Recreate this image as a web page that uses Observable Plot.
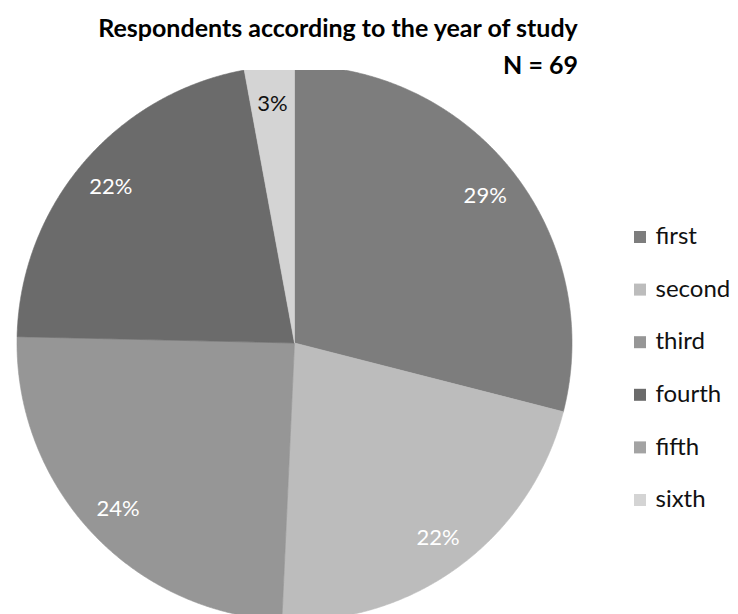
<!DOCTYPE html>
<html>
<head>
<meta charset="utf-8">
<script src="https://cdn.jsdelivr.net/npm/d3@7"></script>
<script src="https://cdn.jsdelivr.net/npm/@observablehq/plot@0.6"></script>
<style>
  html, body { margin: 0; padding: 0; background: #fff; }
  #wrap { position: relative; width: 738px; height: 614px; overflow: hidden; font-family: Lato, "Open Sans", sans-serif; }
  #head { position: relative; width: 738px; height: 70px; }
  .t { position: absolute; font-weight: bold; font-size: 25px; line-height: 25px; color: #000; white-space: nowrap; }
  #title { left: 0; width: 676px; text-align: center; top: 15px; }
  #sub { right: 160px; top: 52px; }
  #chart svg { display: block; }
</style>
</head>
<body>
<div id="wrap">
  <div id="head">
    <div class="t" id="title">Respondents according to the year of study</div>
    <div class="t" id="sub">N = 69</div>
  </div>
  <div id="chart"></div>
</div>
<script>
const categories = ["first", "second", "third", "fourth", "fifth", "sixth"];
const counts = [20, 15, 17, 15, 0, 2];
const labels = ["29%", "22%", "24%", "22%", "", "3%"];
const colors = ["#7d7d7d", "#bcbcbc", "#969696", "#6b6b6b", "#a3a3a3", "#d4d4d4"];
const labelColors = ["#ffffff", "#ffffff", "#ffffff", "#ffffff", "#ffffff", "#000000"];

const W = 738, H = 544;
const cx = 294, cy = 272.5, R = 277.5;
const total = d3.sum(counts);

const slicePts = [];
const labelPts = [];
let cum = 0;
categories.forEach((c, i) => {
  const a0 = cum / total * 2 * Math.PI;
  cum += counts[i];
  const a1 = cum / total * 2 * Math.PI;
  if (counts[i] <= 0) return;
  slicePts.push({cat: c, x: 0, y: 0});
  const n = Math.max(2, Math.ceil((a1 - a0) / (Math.PI / 720)));
  for (let k = 0; k <= n; k++) {
    const a = a0 + (a1 - a0) * k / n;
    slicePts.push({cat: c, x: R * Math.sin(a), y: R * Math.cos(a)});
  }
  slicePts.push({cat: c, x: 0, y: 0});
  const am = (a0 + a1) / 2, lr = R * 0.87;
  labelPts.push({cat: c, text: labels[i], color: labelColors[i], x: lr * Math.sin(am), y: lr * Math.cos(am)});
});

const legend = categories.map((c, i) => {
  const py = 167 + i * 52.6;
  return {cat: c, y: cy - py};
});

const chart = Plot.plot({
  width: W, height: H,
  margin: 0,
  x: {domain: [-cx, W - cx], axis: null},
  y: {domain: [cy - H, cy], axis: null},
  color: {domain: categories, range: colors},
  style: {fontFamily: "Lato, 'Open Sans', sans-serif", background: "white"},
  marks: [
    Plot.line(slicePts, {x: "x", y: "y", z: "cat", fill: "cat", stroke: "cat", strokeWidth: 0.6, curve: "linear"}),
    Plot.text(labelPts.filter(d => d.color === "#ffffff"), {x: "x", y: "y", text: "text", fill: "#ffffff", fontSize: 22, textAnchor: "middle", dy: 1}),
    Plot.text(labelPts.filter(d => d.color !== "#ffffff"), {x: "x", y: "y", text: "text", fill: "#111", fontSize: 22, textAnchor: "middle", dy: 1}),
    Plot.rect(legend, {x1: () => 634 - cx, x2: () => 646 - cx, y1: d => d.y - 6, y2: d => d.y + 6, fill: "cat"}),
    Plot.text(legend, {x: () => 655 - cx, y: "y", text: "cat", textAnchor: "start", fill: "#111", fontSize: 24, dy: -1})
  ]
});
document.getElementById("chart").appendChild(chart);
</script>
</body>
</html>
